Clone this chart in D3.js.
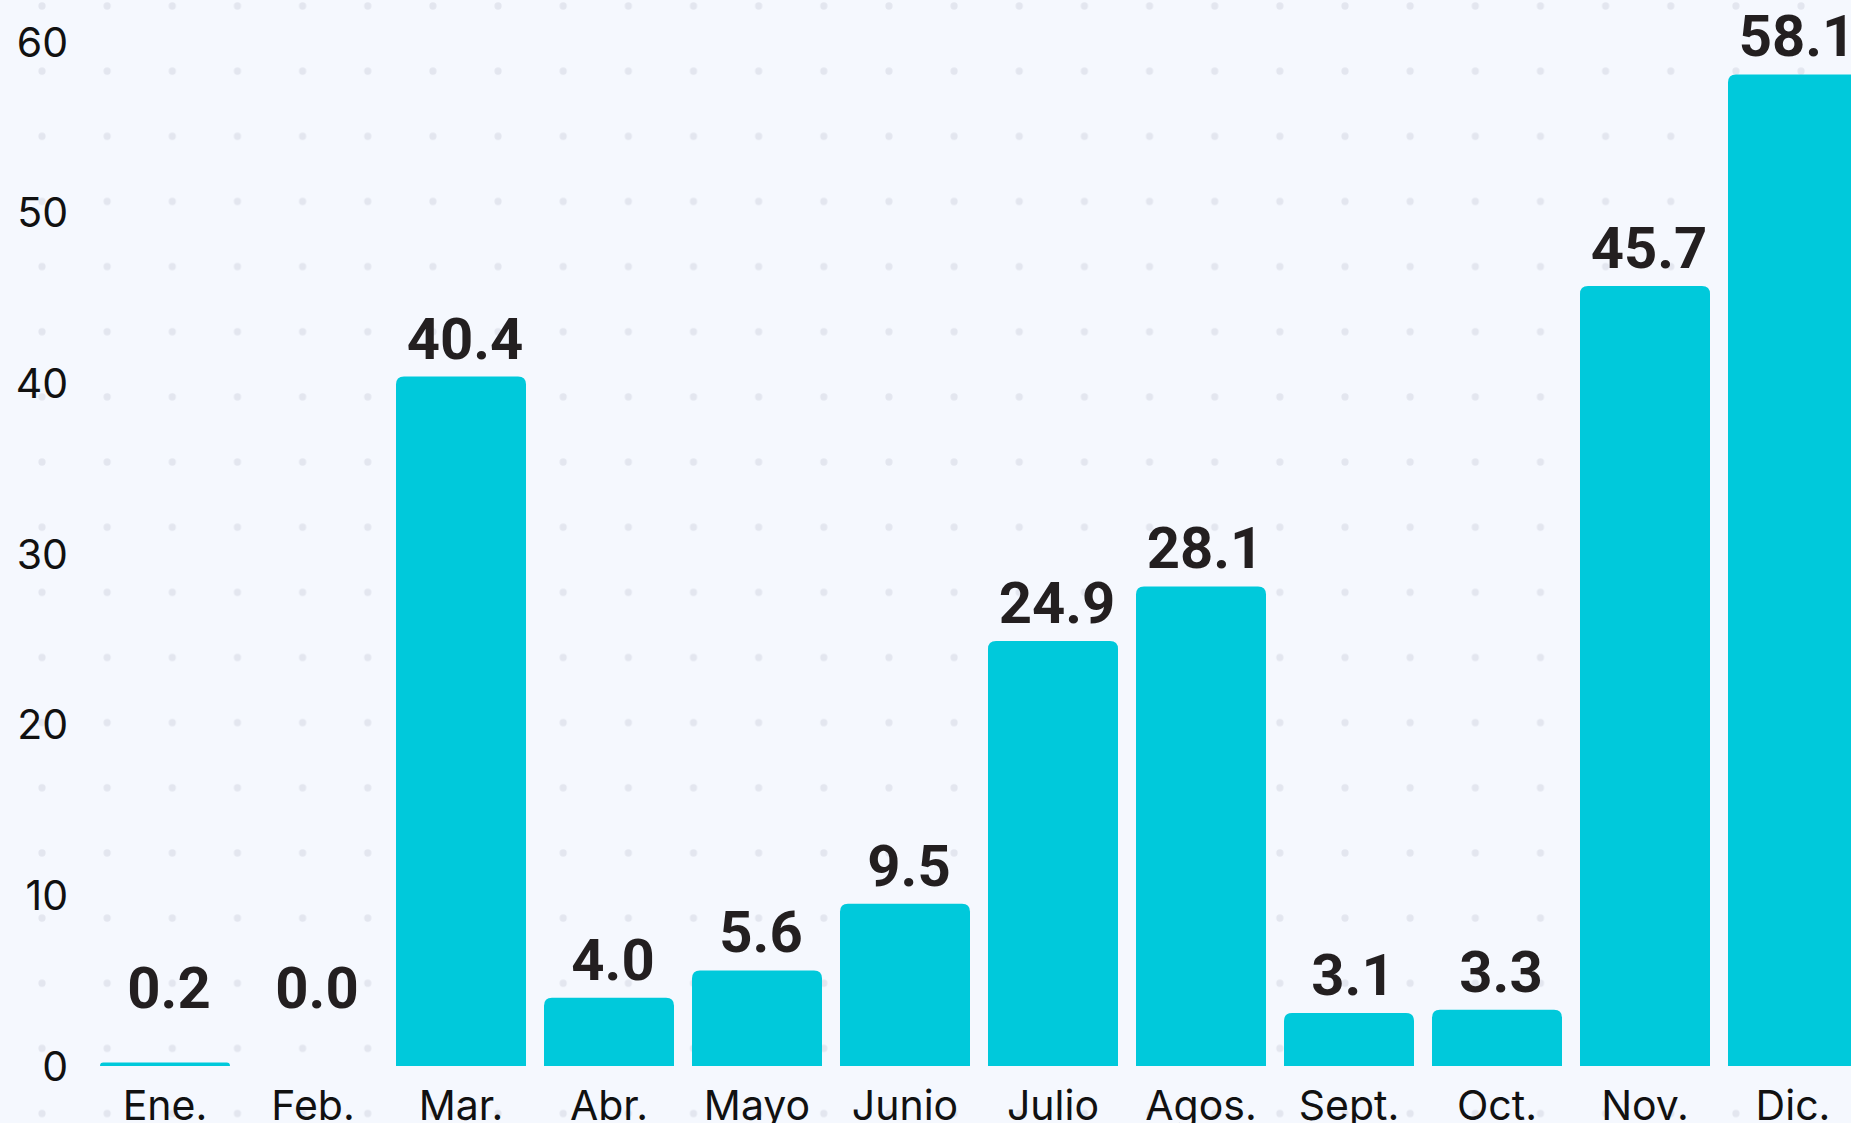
<!DOCTYPE html>
<html>
<head>
<meta charset="utf-8">
<script src="https://cdn.jsdelivr.net/npm/d3@7"></script>
<style>
  html, body { margin: 0; padding: 0; background: #f5f8fe; overflow: hidden; }
  svg { display: block; }
</style>
</head>
<body>
<div id="chart"></div>
<script>
const months = ['Ene.', 'Feb.', 'Mar.', 'Abr.', 'Mayo', 'Junio', 'Julio', 'Agos.', 'Sept.', 'Oct.', 'Nov.', 'Dic.']
const values = [0.2, 0.0, 40.4, 4.0, 5.6, 9.5, 24.9, 28.1, 3.1, 3.3, 45.7, 58.1]
const yTicks = [0, 10, 20, 30, 40, 50, 60]

const w = 1851
const h = 1123
const barColor = '#00c9db'

const svg = d3.select('#chart').append('svg').attr('width', w).attr('height', h)

// dotted background
const defs = svg.append('defs')
const pat = defs.append('pattern')
    .attr('id', 'dots')
    .attr('patternUnits', 'userSpaceOnUse')
    .attr('width', 65.15).attr('height', 65.15)
    .attr('x', 42 - 32.575).attr('y', 6 - 32.575)
pat.append('circle').attr('cx', 32.575).attr('cy', 32.575).attr('r', 3.6).attr('fill', '#e3e6ef')

svg.append('rect').attr('width', w).attr('height', h).attr('fill', '#f5f8fe')
svg.append('rect').attr('width', w).attr('height', h).attr('fill', 'url(#dots)')

const x = d3.scaleBand()
    .domain(months)
    .range([100, 100 + 12 * 148 - 18])
    .paddingInner(18 / 148)
    .paddingOuter(0)

const y = d3.scaleLinear().domain([0, 60]).range([1066, 42])

// bars with rounded tops
const r = 8
function barPath(m, v) {
    const x0 = x(m)
    const x1 = x0 + x.bandwidth()
    const y0 = y(0)
    const y1 = y(v)
    const rr = Math.min(r, (y0 - y1))
    if (y0 - y1 <= 0) return ''
    return `M${x0},${y0}V${y1 + rr}Q${x0},${y1} ${x0 + rr},${y1}H${x1 - rr}Q${x1},${y1} ${x1},${y1 + rr}V${y0}Z`
}

svg.append('g')
    .selectAll('path')
    .data(months)
    .join('path')
    .attr('d', (m, i) => barPath(m, values[i]))
    .attr('fill', barColor)

// value labels
svg.append('g')
    .selectAll('text')
    .data(months)
    .join('text')
    .attr('x', (m) => x(m) + x.bandwidth() / 2 + 4)
    .attr('y', (m, i) => Math.min(y(values[i]) - 18, y(0) - 58))
    .attr('text-anchor', 'middle')
    .attr('font-family', 'Roboto, sans-serif')
    .attr('font-weight', 700)
    .attr('font-size', 58)
    .attr('fill', '#231f20')
    .text((m, i) => values[i].toFixed(1))

// y axis labels
svg.append('g')
    .selectAll('text')
    .data(yTicks)
    .join('text')
    .attr('x', 68)
    .attr('y', (d) => y(d))
    .attr('dy', '0.36em')
    .attr('text-anchor', 'end')
    .attr('font-family', 'Inter, sans-serif')
    .attr('font-size', 41)
    .attr('fill', '#111')
    .text((d) => d)

// x axis labels
svg.append('g')
    .selectAll('text')
    .data(months)
    .join('text')
    .attr('x', (m) => x(m) + x.bandwidth() / 2)
    .attr('y', 1120)
    .attr('text-anchor', 'middle')
    .attr('font-family', 'Inter, sans-serif')
    .attr('font-size', 41)
    .attr('fill', '#111')
    .text((m) => m)
</script>
</body>
</html>
